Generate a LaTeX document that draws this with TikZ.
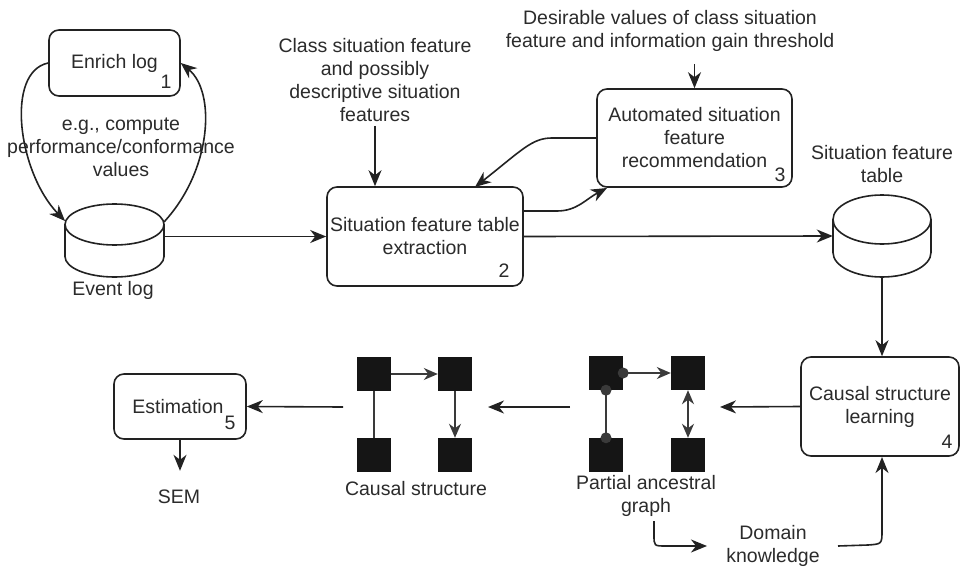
\documentclass[tikz,border=0pt]{standalone}
\usepackage{fontspec}
\setmainfont{Liberation Sans}
\usetikzlibrary{arrows.meta}
\definecolor{ink}{HTML}{222222}
\definecolor{txt}{HTML}{2B2B2B}
\definecolor{sq}{HTML}{151515}
\definecolor{edg}{HTML}{3A3A3A}
\begin{document}
\begin{tikzpicture}[x=1pt,y=-1pt,
  every node/.style={font=\fontsize{19.5}{23}\selectfont, text=txt},
  box/.style={draw=ink, line width=1.6pt, rounded corners=10pt, inner sep=0pt, fill=white},
  lbl/.style={align=center, inner sep=0pt},
  arr/.style={draw=ink, line width=1.6pt, -{Stealth[length=16pt,width=13pt,inset=5pt]}},
  cyl/.style={draw=ink, line width=1.6pt, fill=white},
  sqn/.style={fill=sq, minimum size=34pt, inner sep=0pt},
  gedge/.style={draw=edg, line width=1.6pt},
  garr/.style={gedge, -{Stealth[length=14pt,width=12pt,inset=4.5pt]}},
  gdarr/.style={gedge, {Stealth[length=14pt,width=12pt,inset=4.5pt]}-{Stealth[length=14pt,width=12pt,inset=4.5pt]}},
  dot/.style={circle, fill=edg, minimum size=11pt, inner sep=0pt}
]
\useasboundingbox (0,0) rectangle (960,567);

% ---------- boxes ----------
\node[box, minimum width=131pt, minimum height=66pt] (b1) at (114.5,63) {Enrich log};
\node[inner sep=0pt] (n1) at (166,82) {1};

\node[box, lbl, minimum width=196pt, minimum height=99pt] (b2) at (425,236.5) {Situation feature table\\extraction};
\node[inner sep=0pt] (n2) at (504,271) {2};

\node[box, lbl, minimum width=195pt, minimum height=98pt] (b3) at (694.5,138) {Automated situation\\feature\\recommendation};
\node[inner sep=0pt] (n3) at (780,175) {3};

\node[box, lbl, minimum width=158pt, minimum height=99pt] (b4) at (880,406.5) {Causal structure\\learning};
\node[inner sep=0pt] (n4) at (947,442) {4};

\node[box, minimum width=132pt, minimum height=65pt] (b5) at (180,406.5) {Estimation\hspace*{4pt}};
\node[inner sep=0pt] (n5) at (230,423) {5};

% ---------- cylinders ----------
\node[minimum width=99pt, minimum height=73pt, inner sep=0pt] (el) at (114.5,240.5) {};
\draw[cyl] (65,224.5) -- (65,256.5) arc[start angle=180, end angle=360, x radius=49.5pt, y radius=20.5pt] -- (164,224.5);
\draw[cyl] (114.5,224.5) ellipse[x radius=49.5pt, y radius=20.5pt];

\node[minimum width=98pt, minimum height=82pt, inner sep=0pt] (sft) at (882,236) {};
\draw[cyl] (833,219.5) -- (833,252.5) arc[start angle=180, end angle=360, x radius=49pt, y radius=24.5pt] -- (931,219.5);
\draw[cyl] (882,219.5) ellipse[x radius=49pt, y radius=24.5pt];

% ---------- labels ----------
\node[lbl] (teg) at (121,147) {e.g., compute\\performance/conformance\\values};
\node[lbl] (tel) at (113,290) {Event log};
\node[lbl] (tcl) at (375,80) {Class situation feature\\and possibly\\descriptive situation\\features};
\node[lbl] (tds) at (670,31) {Desirable values of class situation\\feature and information gain threshold};
\node[lbl] (tsf) at (882,164) {Situation feature\\table};
\node[lbl] (tpg) at (646,496) {Partial ancestral\\graph};
\node[lbl] (tcs) at (416,489) {Causal structure};
\node[lbl] (tsm) at (179,497) {SEM};
\node[lbl] (tdk) at (773,546) {Domain\\knowledge};

% ---------- graphs ----------
\node[sqn] (c1) at (374,374) {};
\node[sqn] (c2) at (455,374) {};
\node[sqn] (c3) at (374,455) {};
\node[sqn] (c4) at (455,455) {};
\draw[garr] (c1.east) -- (c2.west);
\draw[gedge] (c1.south) -- (c3.north);
\draw[garr] (c2.south) -- (c4.north);

\node[sqn] (p1) at (606,373) {};
\node[sqn] (p2) at (688,373) {};
\node[sqn] (p3) at (606,455) {};
\node[sqn] (p4) at (688,455) {};
\draw[garr] (p1.east) -- (p2.west);
\draw[gedge] (p1.south) -- (p3.north);
\draw[gdarr] (p2.south) -- (p4.north);
\node[dot] at (p1.east) {};
\node[dot] at (p1.south) {};
\node[dot] at (p3.north) {};

% ---------- coordinates ----------
\coordinate (pagR) at (720,407);
\coordinate (pagL) at (570,407);
\coordinate (csR) at (488,407);
\coordinate (csL) at (343,407);
\coordinate (elTL) at (65,221);
\coordinate (elTR) at (164,222);
\coordinate (t32) at (475,187);
\coordinate (t23) at (607,188);
\coordinate (dkL) at (707,546);
\coordinate (dkR) at (838,546);
\coordinate (pgB) at (654,521);

% ---------- connectors ----------
\draw[arr] (b1.west) .. controls (5,72) and (18,172) .. (elTL);
\draw[arr] (elTR) .. controls (212,170) and (216,92) .. (b1.east);
\draw[arr] (el.east |- b2.west) -- (b2.west);
\draw[arr] (b2.east) -- (sft.west);
\draw[arr] ([yshift=-4pt]tcl.south) -- (tcl.south |- b2.north);
\draw[arr] ([yshift=-12pt]b3.north |- tds.south) -- (b3.north);
\draw[arr] (b3.west) -- (552,138) .. controls (532,138) and (522,150) .. (t32);
\draw[arr] (b2.east |- 0,211) -- (557,211) .. controls (577,211) and (586,199) .. (t23);
\draw[arr] (sft.south) -- (sft.south |- b4.north);
\draw[arr] (b4.west) -- (pagR);
\draw[arr] (pagL) -- (csR);
\draw[arr] (csL) -- (b5.east);
\draw[arr] (b5.south) -- ++(0,31);
\draw[arr] (pgB) -- (654,535) .. controls (654,546) .. (666,546) -- (dkL);
\draw[arr] (dkR) -- (868,545) .. controls (882,544) .. (882,530) -- (882,457);
\end{tikzpicture}
\end{document}
